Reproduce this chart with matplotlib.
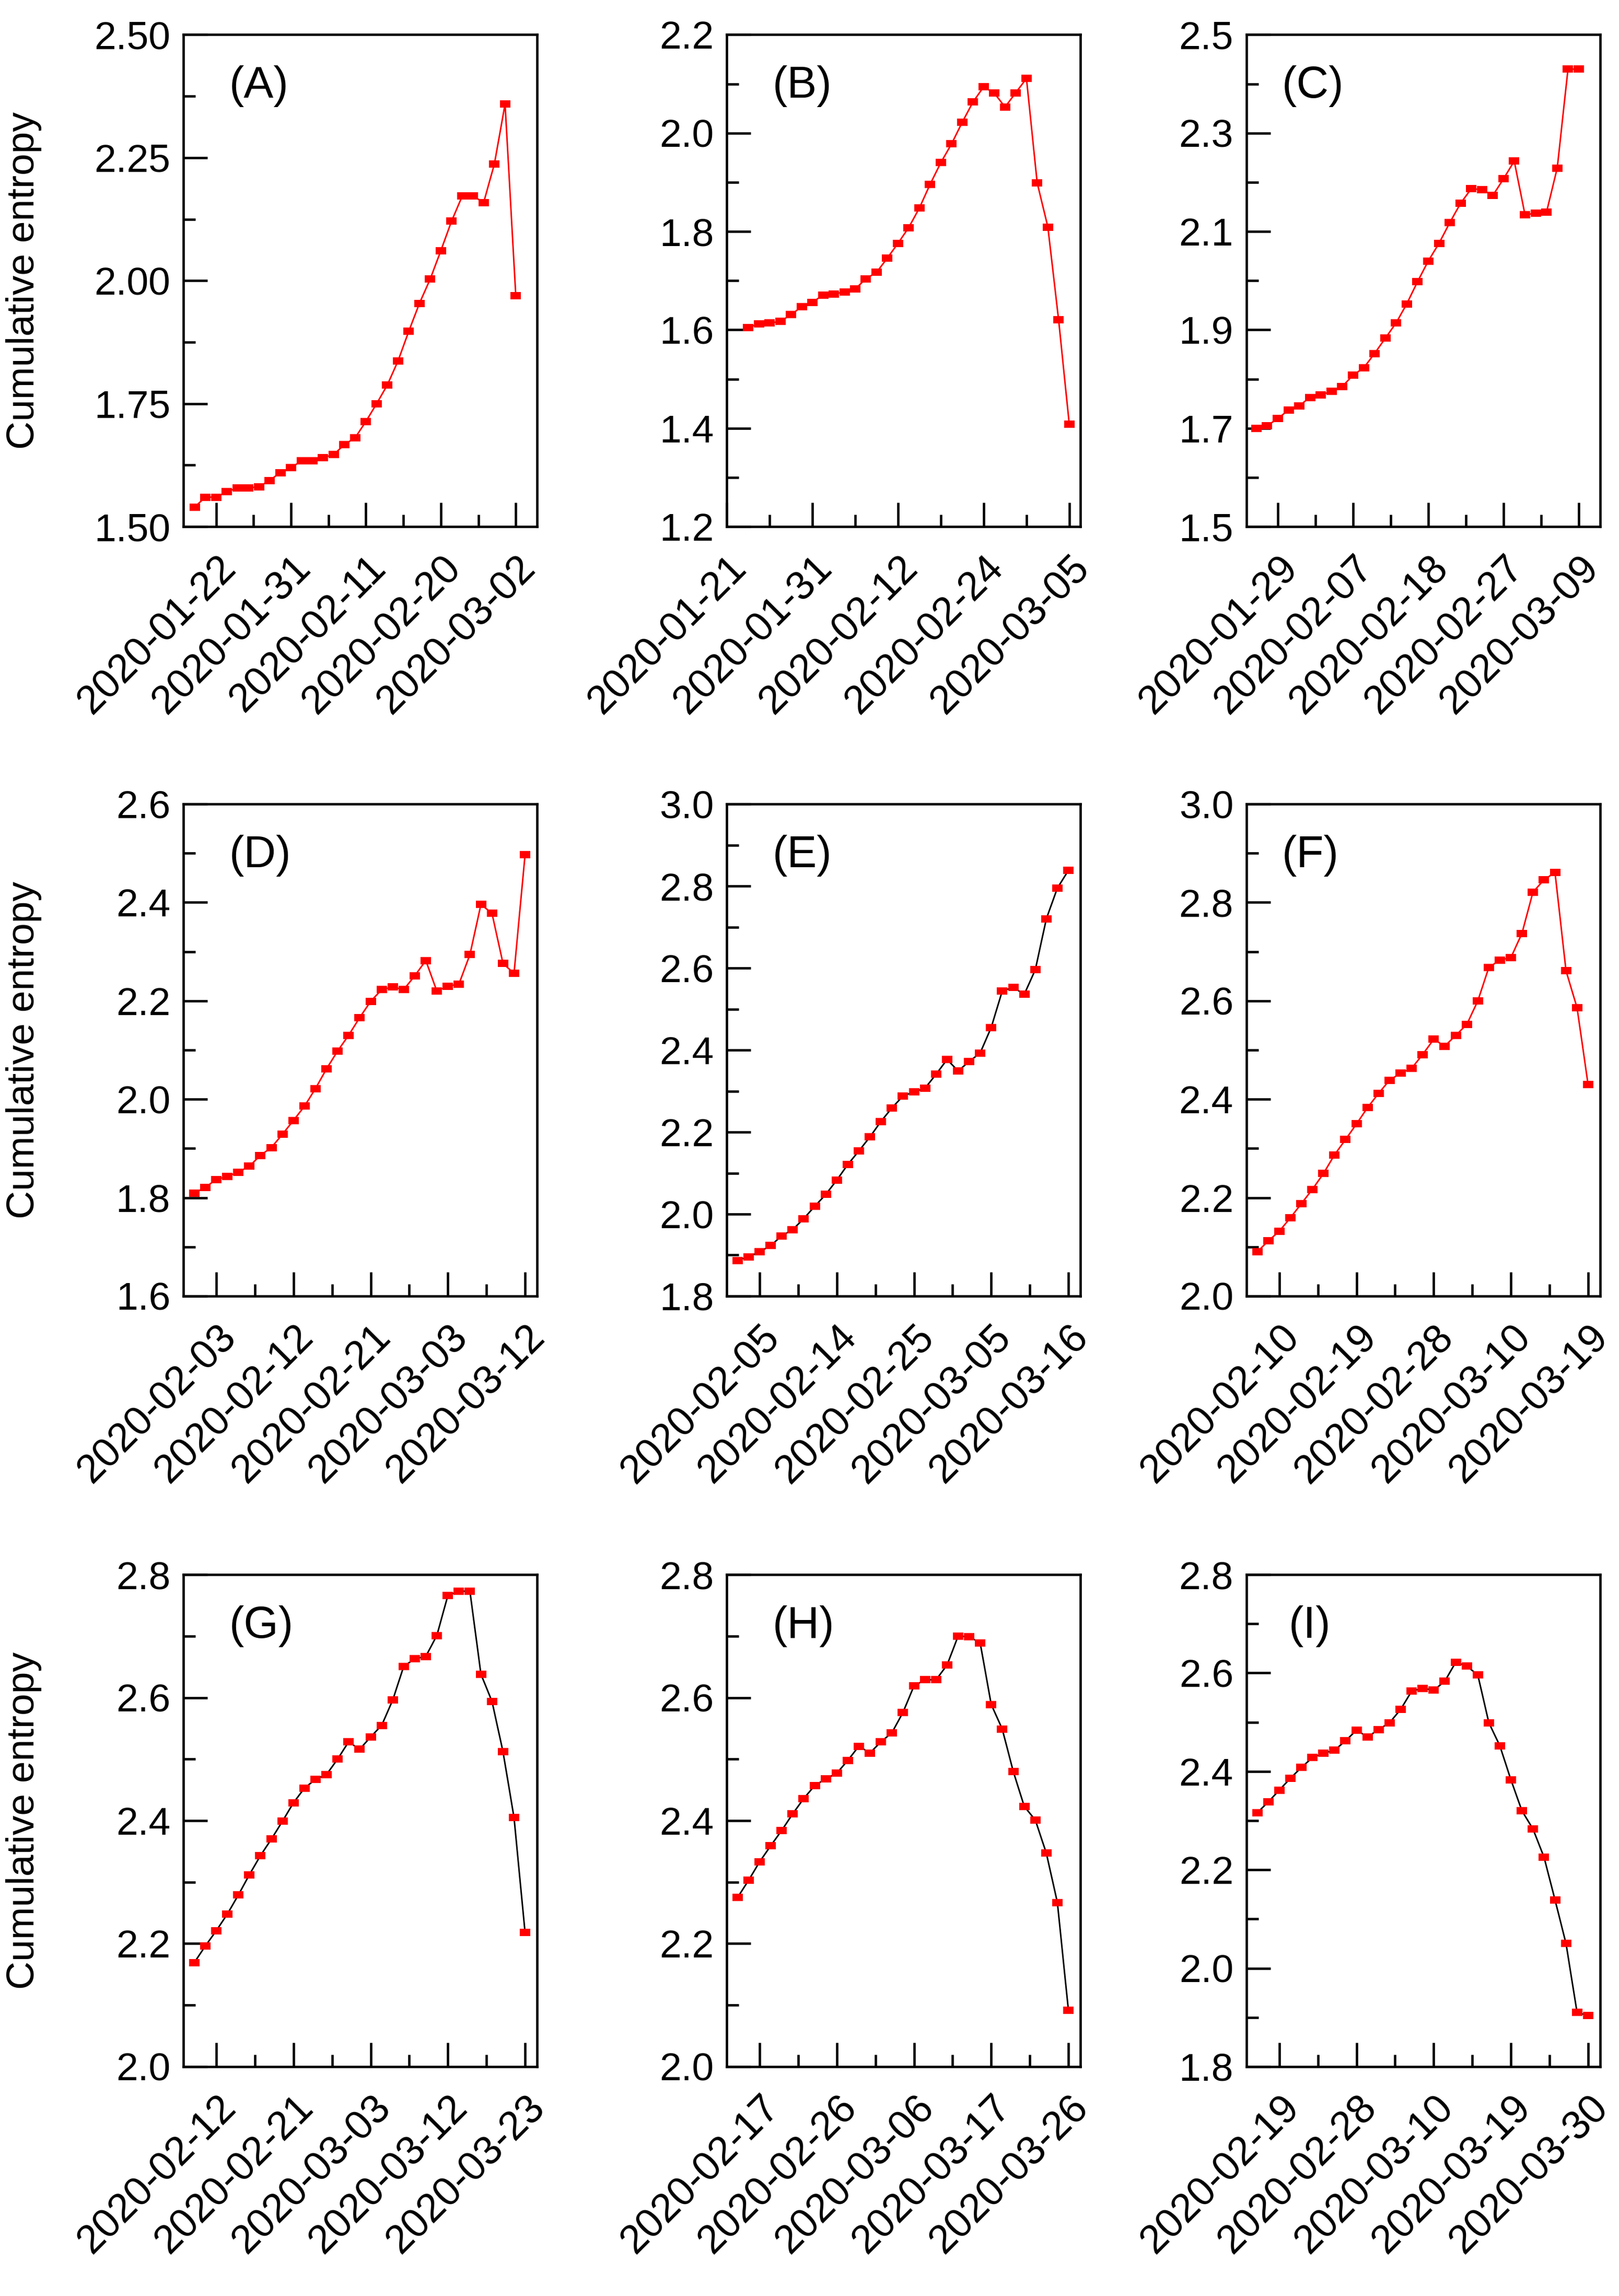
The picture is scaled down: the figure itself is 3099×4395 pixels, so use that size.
import numpy as np
import matplotlib.pyplot as plt
from matplotlib.ticker import FixedLocator

plt.rcParams['font.family'] = 'Liberation Sans'

# ---- data ----
vals_a = [1.540, 1.560, 1.560, 1.571, 1.579, 1.579, 1.581, 1.594, 1.610, 1.620, 1.634,
          1.634, 1.640, 1.647, 1.667, 1.681, 1.714, 1.750, 1.788, 1.837, 1.897, 1.954,
          2.003, 2.061, 2.121, 2.172, 2.172, 2.159, 2.237, 2.359, 1.970]
vals_b = [1.605, 1.612, 1.614, 1.617, 1.631, 1.647, 1.656, 1.671, 1.673, 1.677, 1.683,
          1.704, 1.717, 1.746, 1.776, 1.808, 1.848, 1.896, 1.940, 1.978, 2.022, 2.063,
          2.094, 2.081, 2.053, 2.082, 2.111, 1.899, 1.809, 1.621, 1.408]
vals_c = [1.700, 1.705, 1.720, 1.737, 1.746, 1.763, 1.768, 1.775, 1.785, 1.808, 1.823,
          1.852, 1.883, 1.914, 1.953, 1.998, 2.040, 2.076, 2.118, 2.157, 2.187, 2.185,
          2.173, 2.207, 2.243, 2.134, 2.137, 2.139, 2.229, 2.430, 2.430]
vals_d = [1.809, 1.821, 1.837, 1.843, 1.852, 1.864, 1.886, 1.902, 1.929, 1.957, 1.986,
          2.022, 2.062, 2.098, 2.130, 2.166, 2.199, 2.223, 2.228, 2.223, 2.251, 2.282,
          2.220, 2.230, 2.234, 2.294, 2.396, 2.378, 2.276, 2.256, 2.497]
vals_e = [1.887, 1.896, 1.908, 1.923, 1.947, 1.962, 1.989, 2.019, 2.048, 2.083, 2.121,
          2.154, 2.188, 2.226, 2.259, 2.288, 2.298, 2.307, 2.341, 2.377, 2.349, 2.372,
          2.393, 2.455, 2.544, 2.553, 2.536, 2.596, 2.720, 2.795, 2.838]
vals_f = [2.090, 2.112, 2.132, 2.159, 2.188, 2.217, 2.249, 2.287, 2.318, 2.350, 2.383,
          2.412, 2.439, 2.453, 2.463, 2.491, 2.522, 2.508, 2.530, 2.552, 2.600, 2.668,
          2.683, 2.688, 2.737, 2.821, 2.846, 2.861, 2.661, 2.586, 2.430]
vals_g = [2.169, 2.196, 2.221, 2.248, 2.279, 2.312, 2.343, 2.370, 2.399, 2.429, 2.453,
          2.467, 2.475, 2.500, 2.528, 2.516, 2.536, 2.555, 2.596, 2.651, 2.663, 2.667,
          2.701, 2.766, 2.773, 2.773, 2.638, 2.594, 2.512, 2.405, 2.218]
vals_h = [2.275, 2.303, 2.333, 2.359, 2.384, 2.411, 2.436, 2.457, 2.468, 2.477, 2.498,
          2.521, 2.510, 2.528, 2.543, 2.576, 2.619, 2.629, 2.629, 2.653, 2.700, 2.699,
          2.689, 2.589, 2.549, 2.480, 2.423, 2.401, 2.347, 2.267, 2.092]
vals_i = [2.316, 2.338, 2.362, 2.386, 2.408, 2.428, 2.437, 2.443, 2.462, 2.484, 2.470,
          2.485, 2.499, 2.526, 2.563, 2.569, 2.565, 2.583, 2.622, 2.614, 2.596, 2.499,
          2.452, 2.383, 2.320, 2.283, 2.226, 2.139, 2.050, 1.910, 1.904]

dates_a = ['2020-01-22', '2020-01-31', '2020-02-11', '2020-02-20', '2020-03-02']
dates_b = ['2020-01-21', '2020-01-31', '2020-02-12', '2020-02-24', '2020-03-05']
dates_c = ['2020-01-29', '2020-02-07', '2020-02-18', '2020-02-27', '2020-03-09']
dates_d = ['2020-02-03', '2020-02-12', '2020-02-21', '2020-03-03', '2020-03-12']
dates_e = ['2020-02-05', '2020-02-14', '2020-02-25', '2020-03-05', '2020-03-16']
dates_f = ['2020-02-10', '2020-02-19', '2020-02-28', '2020-03-10', '2020-03-19']
dates_g = ['2020-02-12', '2020-02-21', '2020-03-03', '2020-03-12', '2020-03-23']
dates_h = ['2020-02-17', '2020-02-26', '2020-03-06', '2020-03-17', '2020-03-26']
dates_i = ['2020-02-19', '2020-02-28', '2020-03-10', '2020-03-19', '2020-03-30']

yticks_a = [1.50, 1.75, 2.00, 2.25, 2.50]
yticks_b = [1.2, 1.4, 1.6, 1.8, 2.0, 2.2]
yticks_c = [1.5, 1.7, 1.9, 2.1, 2.3, 2.5]
yticks_d = [1.6, 1.8, 2.0, 2.2, 2.4, 2.6]
yticks_e = [1.8, 2.0, 2.2, 2.4, 2.6, 2.8, 3.0]
yticks_f = [2.0, 2.2, 2.4, 2.6, 2.8, 3.0]
yticks_g = [2.0, 2.2, 2.4, 2.6, 2.8]
yticks_h = [2.0, 2.2, 2.4, 2.6, 2.8]
yticks_i = [1.8, 2.0, 2.2, 2.4, 2.6, 2.8]

panels = [
    # label, values, dates, yticks, ytick format, line color, xlim, first major, step, label x
    ('(A)', vals_a, dates_a, yticks_a, '%.2f', 'red', (-1.05, 32.0), 2, 7, 0.13),
    ('(B)', vals_b, dates_b, yticks_b, '%.1f', 'red', (-2.0, 31.05), -2, 8, 0.13),
    ('(C)', vals_c, dates_c, yticks_c, '%.1f', 'red', (-0.92, 32.0), 2, 7, 0.10),
    ('(D)', vals_d, dates_d, yticks_d, '%.1f', 'red', (-0.98, 31.1), 2, 7, 0.13),
    ('(E)', vals_e, dates_e, yticks_e, '%.1f', 'black', (-0.98, 31.1), 2, 7, 0.13),
    ('(F)', vals_f, dates_f, yticks_f, '%.1f', 'red', (-0.98, 31.1), 2, 7, 0.10),
    ('(G)', vals_g, dates_g, yticks_g, '%.1f', 'black', (-0.98, 31.1), 2, 7, 0.13),
    ('(H)', vals_h, dates_h, yticks_h, '%.1f', 'black', (-0.98, 31.1), 2, 7, 0.13),
    ('(I)', vals_i, dates_i, yticks_i, '%.1f', 'black', (-0.98, 31.1), 2, 7, 0.12),
]

fig = plt.figure(figsize=(3099 / 300, 4395 / 300), dpi=300)

lefts = [0.1133, 0.4489, 0.7699]
bottoms = [0.7706, 0.4355, 0.0999]
w, h = 0.2185, 0.2143

rect = [(-1.4, -1), (1.4, -1), (1.4, 1), (-1.4, 1), (-1.4, -1)]

for k, (lab, vals, dates, yt, fmt, lc, xl, x0, step, lx) in enumerate(panels):
    r, c = divmod(k, 3)
    ax = fig.add_axes([lefts[c], bottoms[r], w, h])
    x = np.arange(len(vals))
    ax.plot(x, vals, '-', color=lc, lw=0.7, zorder=2)
    ax.plot(x, vals, ls='none', marker=rect, ms=4.8, color='red', mec='red', mew=0, zorder=3)

    ax.set_xlim(*xl)
    ax.set_ylim(yt[0], yt[-1])
    majors = [x0 + step * i for i in range(5)]
    minors = [m + step / 2 for m in majors if m + step / 2 < xl[1]]
    ax.set_xticks(majors)
    ax.set_xticklabels(dates, rotation=45, ha='right', rotation_mode='anchor', fontsize=18.5)
    ax.xaxis.set_minor_locator(FixedLocator(minors))
    ax.set_yticks(yt)
    ax.set_yticklabels([fmt % v for v in yt], fontsize=18)
    ymin = [(yt[i] + yt[i + 1]) / 2 for i in range(len(yt) - 1)]
    ax.yaxis.set_minor_locator(FixedLocator(ymin))

    ax.tick_params(which='major', direction='in', length=11, width=1.1, pad=6)
    ax.tick_params(which='minor', direction='in', length=5.5, width=1.1)
    ax.tick_params(axis='x', which='major', pad=10)
    for s in ax.spines.values():
        s.set_linewidth(1.1)

    ax.text(lx, 0.895, lab, transform=ax.transAxes, ha='left', va='center', fontsize=20.5)
    if c == 0:
        ax.set_ylabel('Cumulative entropy', fontsize=18)
        ax.yaxis.set_label_coords(-0.40, 0.5)

fig.savefig('out.png', dpi=300)
